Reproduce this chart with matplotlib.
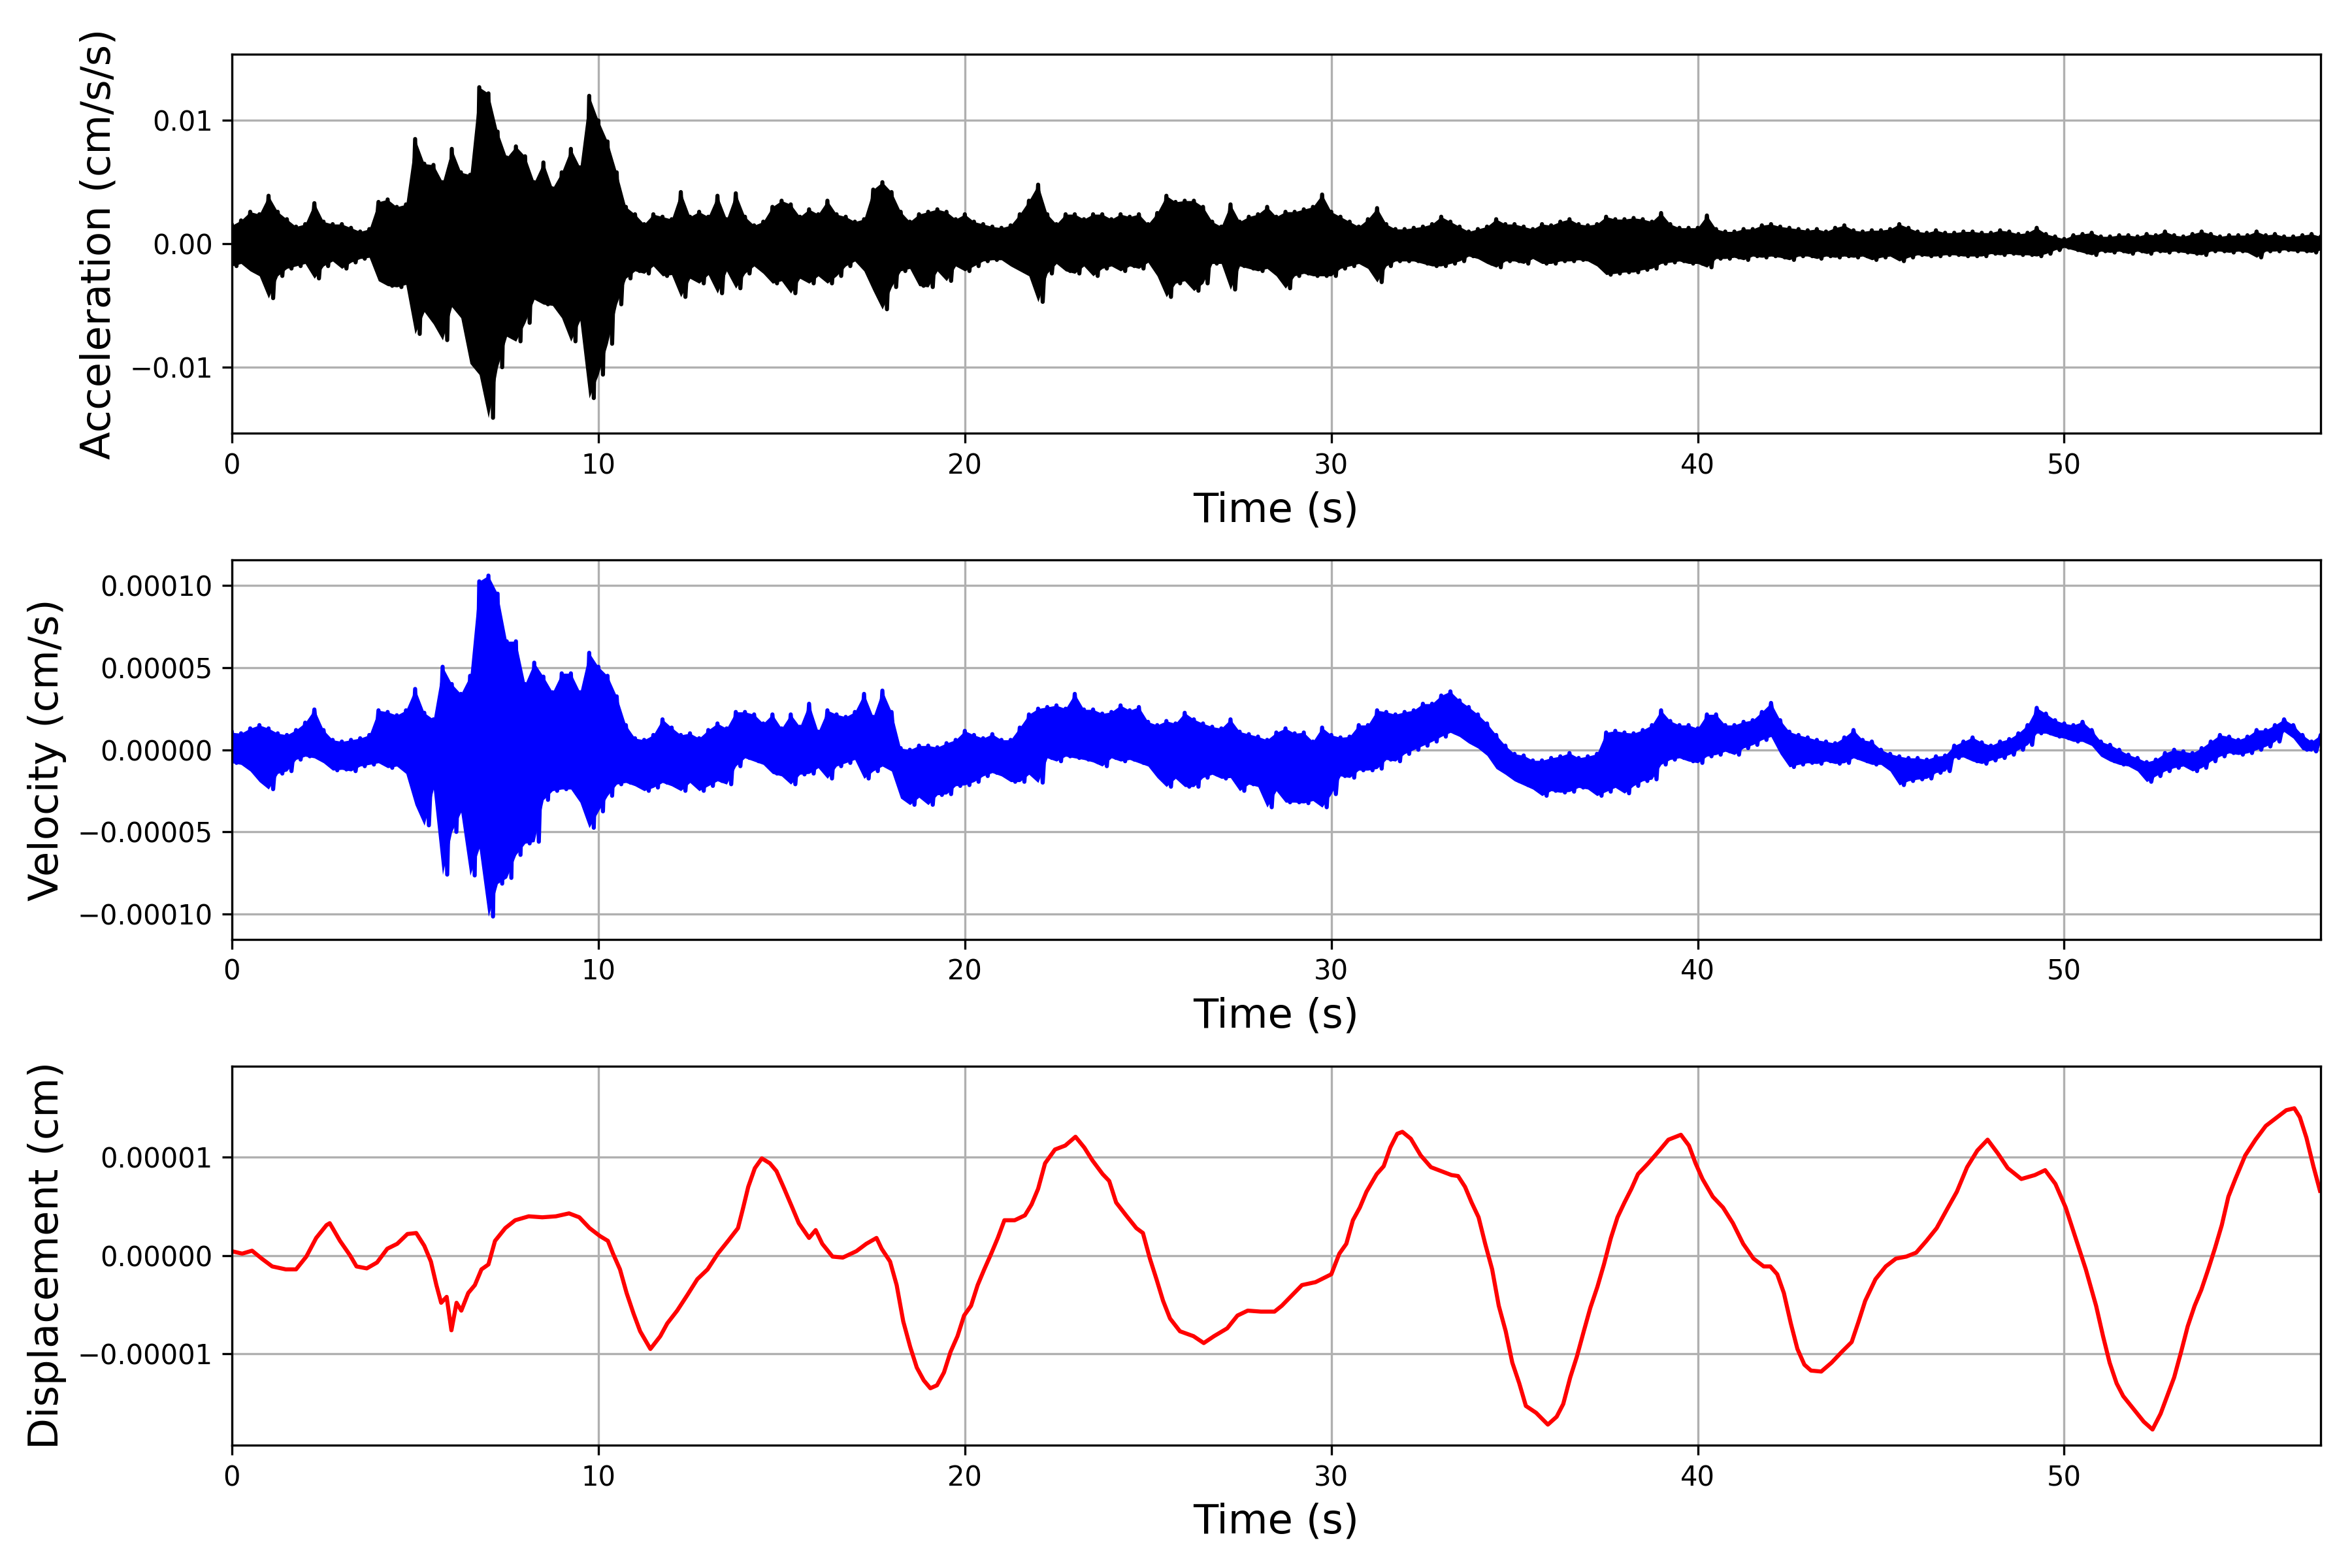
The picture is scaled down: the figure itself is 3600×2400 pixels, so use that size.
import numpy as np
import matplotlib
matplotlib.use("Agg")
import matplotlib.pyplot as plt
from matplotlib.ticker import MultipleLocator, ScalarFormatter

# ---------------- data ----------------
# Acceleration: upper / lower extremes every 0.25 s, units of 1e-3 cm/s/s
acc_step = 0.25
acc_upper = [
    1.5, 1.9, 2.6, 2.4, 3.9, 2.6, 2.0, 1.4, 1.6, 3.3, 1.8, 1.6, 1.6, 1.3, 1.0, 1.2,
    3.4, 3.6, 3.0, 3.2, 8.5, 6.5, 6.4, 5.0, 7.7, 5.8, 5.6, 12.7, 12.2, 9.1, 7.0, 7.9,
    7.1, 5.0, 6.6, 4.5, 5.8, 7.7, 6.2, 12.0, 10.0, 8.3, 5.8, 3.0, 2.4, 1.6, 2.4, 2.2,
    2.0, 4.2, 2.2, 2.6, 2.2, 3.9, 2.0, 4.1, 2.2, 1.5, 1.8, 3.0, 3.5, 3.2, 2.2, 2.8,
    2.4, 3.5, 2.4, 2.2, 1.8, 2.0, 4.4, 5.0, 4.2, 2.6, 1.8, 2.4, 2.6, 2.8, 2.6, 2.0,
    2.4, 1.8, 1.6, 1.4, 1.3, 1.5, 2.4, 3.5, 4.8, 2.4, 1.6, 2.4, 2.4, 2.0, 2.4, 2.4,
    2.0, 2.4, 2.2, 2.4, 1.6, 2.5, 3.9, 3.4, 3.5, 3.5, 3.0, 1.8, 1.4, 3.2, 1.8, 2.2,
    2.4, 3.0, 2.2, 2.6, 2.6, 2.8, 3.0, 4.0, 2.6, 2.2, 1.8, 1.4, 2.0, 2.9, 1.6, 1.2,
    1.2, 1.3, 1.4, 1.6, 2.2, 1.8, 1.4, 1.0, 1.2, 1.4, 2.0, 1.6, 1.6, 1.4, 1.2, 1.6,
    1.5, 1.8, 2.0, 1.6, 1.5, 1.6, 2.2, 2.0, 2.0, 2.1, 2.0, 1.8, 2.5, 1.6, 1.3, 1.3,
    1.3, 2.3, 1.2, 1.0, 1.0, 1.2, 1.2, 1.5, 1.6, 1.4, 1.3, 1.2, 1.1, 1.2, 1.0, 1.3,
    1.5, 1.1, 1.0, 1.1, 1.1, 1.2, 1.6, 1.3, 1.0, 0.9, 1.1, 0.9, 0.9, 1.0, 1.0, 0.9,
    0.9, 1.1, 1.0, 0.8, 0.9, 1.3, 0.8, 0.6, 0.4, 0.7, 0.8, 0.9, 0.6, 0.6, 0.7, 0.7,
    0.6, 0.8, 0.7, 1.0, 0.7, 0.6, 0.8, 1.0, 0.8, 0.6, 0.7, 0.7, 0.7, 1.0, 0.7, 0.8,
    0.6, 0.6, 0.7, 0.8, 0.6,
]
acc_lower = [
    -1.8, -1.6, -2.2, -2.6, -4.4, -2.6, -2.0, -1.8, -1.6, -2.8, -1.8, -1.4, -2.0, -1.5, -1.2, -1.1,
    -3.0, -3.4, -3.5, -3.3, -7.3, -5.5, -6.5, -7.8, -5.1, -6.0, -9.7, -10.6, -14.1, -10.0, -7.5, -7.9,
    -6.4, -4.5, -4.9, -5.0, -6.0, -7.9, -6.2, -12.5, -10.6, -8.1, -4.9, -2.8, -2.2, -2.4, -1.8, -2.6,
    -2.5, -4.3, -2.8, -3.2, -2.5, -4.0, -2.2, -3.6, -2.4, -1.8, -2.4, -3.2, -3.0, -4.0, -2.8, -3.2,
    -2.6, -3.2, -2.6, -1.8, -1.4, -2.2, -3.8, -5.3, -3.5, -2.2, -2.0, -3.4, -3.5, -2.2, -3.0, -1.8,
    -2.2, -1.8, -1.4, -1.3, -1.3, -1.8, -2.2, -2.6, -4.7, -2.4, -1.6, -2.2, -2.4, -1.8, -2.6, -2.0,
    -1.8, -2.2, -1.8, -2.0, -1.5, -2.6, -4.3, -3.2, -3.0, -3.8, -3.2, -1.6, -1.6, -3.7, -1.8, -2.0,
    -2.2, -2.0, -2.6, -3.6, -2.6, -2.4, -2.6, -2.6, -2.6, -2.0, -1.8, -1.6, -2.0, -3.1, -1.8, -1.4,
    -1.4, -1.4, -1.6, -1.8, -1.8, -1.6, -1.4, -1.0, -1.2, -1.6, -1.9, -1.4, -1.4, -1.6, -1.2, -1.6,
    -1.6, -1.4, -1.4, -1.3, -1.4, -1.8, -2.5, -2.4, -2.3, -2.3, -2.1, -2.0, -1.6, -1.5, -1.4, -1.6,
    -1.6, -1.9, -1.2, -1.2, -1.1, -1.3, -1.0, -1.1, -1.0, -1.1, -1.3, -1.0, -1.0, -1.2, -1.0, -1.1,
    -1.0, -1.1, -1.0, -1.3, -1.1, -1.0, -1.4, -1.1, -0.9, -1.0, -1.0, -0.9, -0.9, -1.0, -1.0, -1.0,
    -0.8, -0.9, -0.8, -0.9, -0.9, -1.0, -0.8, -0.5, -0.3, -0.5, -0.7, -0.9, -0.6, -0.7, -0.6, -0.8,
    -0.6, -0.8, -0.6, -0.7, -0.6, -0.7, -0.8, -0.9, -0.6, -0.6, -0.7, -0.6, -0.7, -1.1, -0.6, -0.6,
    -0.5, -0.6, -0.6, -0.7, -0.5,
]

# Velocity: upper / lower extremes every 0.25 s, units of 1e-5 cm/s
vel_step = 0.25
vel_upper = [
    1.05, 1.0, 1.3, 1.5, 1.3, 1.0, 0.9, 1.2, 1.65, 2.45, 1.2, 0.6, 0.5, 0.6, 0.7, 0.9,
    2.4, 2.3, 2.1, 2.4, 3.7, 2.25, 1.85, 5.05, 4.0, 3.4, 4.5, 10.25, 10.6, 9.5, 6.6, 6.6,
    4.0, 5.3, 4.45, 3.5, 4.65, 4.65, 3.5, 5.9, 5.05, 4.5, 3.25, 1.5, 0.7, 0.6, 0.9, 1.85,
    1.35, 0.9, 1.0, 0.7, 1.2, 1.6, 1.3, 2.3, 2.3, 2.15, 1.6, 2.15, 1.3, 2.15, 1.4, 2.8,
    1.1, 2.4, 2.15, 2.0, 2.3, 3.4, 2.0, 3.6, 2.3, 0.1, 0.0, 0.25, 0.25, 0.15, 0.4, 0.6,
    1.15, 0.9, 0.7, 0.95, 0.6, 0.6, 1.35, 2.15, 2.5, 2.6, 2.7, 2.5, 3.4, 2.45, 2.45, 2.2,
    2.3, 2.7, 2.4, 2.6, 1.7, 1.5, 1.75, 1.6, 2.25, 1.85, 1.6, 1.4, 1.3, 1.85, 1.1, 0.95,
    0.8, 0.6, 1.05, 1.3, 1.0, 1.05, 0.5, 1.35, 0.9, 0.75, 0.8, 1.5, 1.5, 2.4, 2.3, 2.15,
    2.3, 2.4, 2.8, 2.8, 3.3, 3.55, 3.0, 2.6, 2.15, 1.6, 0.9, 0.25, -0.25, -0.35, -0.65, -0.65,
    -0.5, -0.4, -0.2, -0.5, -0.4, -0.25, 1.05, 1.15, 1.05, 1.0, 1.2, 1.5, 2.4, 1.75, 1.5, 1.5,
    1.3, 2.15, 2.15, 1.5, 1.5, 1.7, 1.8, 2.3, 2.85, 1.8, 1.1, 0.9, 0.75, 0.6, 0.5, 0.4,
    0.75, 1.2, 0.6, 0.5, 0.0, -0.25, -0.4, -0.5, -0.5, -0.6, -0.4, -0.35, 0.25, 0.5, 0.75, 0.45,
    0.25, 0.5, 0.65, 1.0, 1.5, 2.55, 2.2, 1.8, 1.6, 1.5, 1.7, 1.2, 0.5, 0.3, 0.0, -0.3,
    -0.5, -0.75, -0.6, -0.2, 0.0, -0.1, -0.2, 0.1, 0.5, 0.9, 0.8, 0.6, 0.8, 1.2, 1.2, 1.5,
    1.85, 1.5, 0.9, 0.5, 0.9,
]
vel_lower = [
    -0.8, -0.9, -1.3, -1.95, -2.4, -1.45, -1.3, -0.6, -0.4, -0.5, -0.8, -1.25, -1.2, -1.3, -1.0, -0.9,
    -0.8, -1.1, -1.0, -1.45, -3.35, -4.6, -2.4, -7.6, -5.0, -3.8, -7.65, -6.0, -10.15, -8.15, -7.8, -6.4,
    -5.7, -5.6, -3.05, -2.5, -2.4, -2.4, -3.2, -4.75, -3.75, -2.8, -2.1, -2.0, -2.2, -2.5, -2.3, -2.0,
    -2.2, -2.5, -2.0, -2.5, -2.2, -1.9, -2.1, -1.0, -0.5, -0.7, -0.9, -1.45, -1.6, -2.1, -1.5, -1.45,
    -1.1, -1.75, -1.0, -0.8, -0.6, -1.75, -1.3, -1.0, -1.3, -2.95, -3.35, -2.9, -3.35, -2.75, -2.7, -2.2,
    -2.15, -1.95, -1.6, -1.4, -1.6, -1.95, -1.95, -1.5, -2.0, -0.5, -0.7, -0.4, -0.5, -0.6, -0.75, -1.0,
    -0.5, -0.7, -0.6, -0.8, -1.0, -1.7, -2.25, -1.75, -2.25, -2.25, -1.7, -1.5, -1.75, -1.7, -2.5, -2.1,
    -2.25, -3.5, -2.5, -3.2, -3.2, -3.25, -3.1, -3.5, -2.7, -1.6, -1.7, -1.25, -1.25, -1.15, -0.6, -0.7,
    -0.25, 0.0, 0.25, 0.5, 0.8, 1.05, 0.8, 0.4, 0.1, -0.35, -1.15, -1.5, -1.9, -2.15, -2.4, -2.8,
    -2.5, -2.6, -2.55, -2.3, -2.4, -2.8, -2.55, -2.3, -2.65, -2.2, -1.9, -1.8, -0.9, -0.6, -0.5, -0.7,
    -0.8, -0.4, -0.3, -0.1, -0.3, 0.1, 0.3, 0.6, 0.8, -0.25, -1.05, -0.9, -0.8, -0.85, -0.7, -0.85,
    -0.8, -0.5, -0.7, -0.9, -0.9, -1.3, -2.15, -1.9, -1.8, -1.75, -1.4, -1.3, -0.5, -0.45, -0.7, -0.85,
    -0.65, -0.5, -0.3, 0.0, 0.3, 1.0, 1.0, 0.8, 0.7, 0.5, 0.5, 0.25, -0.4, -0.7, -0.9, -1.0,
    -1.3, -1.95, -1.6, -1.3, -1.1, -1.0, -1.3, -1.1, -0.7, -0.4, -0.2, -0.3, -0.2, 0.0, 0.2, 0.5,
    1.1, 0.7, 0.0, -0.1, 0.5,
]

# Displacement: time (s) and value (units of 1e-6 cm)
disp_time = [
    0.00, 0.28, 0.55, 0.83, 1.10, 1.47, 1.75, 2.03, 2.30, 2.58, 2.67, 2.95, 3.22, 3.40, 3.68, 3.96,
    4.24, 4.51, 4.79, 5.03, 5.25, 5.43, 5.58, 5.71, 5.86, 5.99, 6.13, 6.26, 6.45, 6.63, 6.81, 7.00,
    7.18, 7.46, 7.73, 8.10, 8.47, 8.84, 9.20, 9.48, 9.76, 10.04, 10.26, 10.40, 10.59, 10.77, 10.96, 11.14,
    11.42, 11.69, 11.88, 12.15, 12.43, 12.70, 12.98, 13.26, 13.54, 13.81, 13.94, 14.09, 14.27, 14.46, 14.68, 14.86,
    15.05, 15.29, 15.47, 15.75, 15.93, 16.11, 16.39, 16.67, 17.04, 17.31, 17.59, 17.73, 17.96, 18.14, 18.32, 18.51,
    18.69, 18.88, 19.06, 19.24, 19.43, 19.61, 19.80, 19.98, 20.17, 20.35, 20.53, 20.72, 20.90, 21.08, 21.36, 21.64,
    21.82, 22.00, 22.19, 22.46, 22.74, 23.02, 23.26, 23.48, 23.76, 23.94, 24.13, 24.40, 24.68, 24.86, 25.05, 25.23,
    25.41, 25.60, 25.87, 26.24, 26.52, 26.80, 27.16, 27.44, 27.72, 28.08, 28.45, 28.65, 29.20, 29.57, 30.00, 30.22,
    30.41, 30.59, 30.78, 30.96, 31.24, 31.43, 31.61, 31.80, 31.94, 32.17, 32.44, 32.72, 33.00, 33.28, 33.46, 33.65,
    33.83, 34.02, 34.20, 34.39, 34.57, 34.76, 34.94, 35.13, 35.31, 35.59, 35.91, 36.15, 36.33, 36.52, 36.70, 36.89,
    37.07, 37.26, 37.44, 37.63, 37.81, 38.00, 38.19, 38.37, 38.65, 38.93, 39.20, 39.54, 39.76, 39.94, 40.13, 40.41,
    40.69, 40.96, 41.24, 41.52, 41.80, 41.98, 42.17, 42.35, 42.54, 42.72, 42.91, 43.09, 43.37, 43.65, 43.93, 44.20,
    44.39, 44.57, 44.85, 45.13, 45.41, 45.69, 45.96, 46.24, 46.52, 46.80, 47.07, 47.35, 47.63, 47.91, 48.19, 48.46,
    48.83, 49.20, 49.48, 49.76, 50.04, 50.31, 50.59, 50.87, 51.06, 51.24, 51.43, 51.61, 51.89, 52.17, 52.41, 52.63,
    52.81, 53.00, 53.19, 53.37, 53.56, 53.74, 53.93, 54.11, 54.30, 54.48, 54.67, 54.94, 55.22, 55.50, 55.78, 56.06,
    56.28, 56.43, 56.61, 56.80, 56.98,
]
disp_value = [
    0.45, 0.2, 0.5, -0.35, -1.1, -1.4, -1.4, -0.1, 1.8, 3.1, 3.3, 1.5, 0.05, -1.1, -1.3, -0.7,
    0.7, 1.2, 2.2, 2.3, 1.0, -0.6, -3.0, -4.8, -4.2, -7.6, -4.8, -5.6, -3.8, -3.0, -1.4, -0.9,
    1.5, 2.8, 3.6, 4.0, 3.9, 4.0, 4.3, 3.9, 2.8, 2.0, 1.5, 0.2, -1.4, -3.8, -5.9, -7.7,
    -9.5, -8.2, -6.9, -5.6, -4.0, -2.4, -1.4, 0.2, 1.5, 2.8, 4.7, 7.0, 8.9, 9.9, 9.4, 8.6,
    7.0, 4.9, 3.3, 1.8, 2.6, 1.2, -0.1, -0.2, 0.45, 1.2, 1.8, 0.7, -0.6, -3.0, -6.7, -9.3,
    -11.4, -12.7, -13.5, -13.2, -11.9, -9.8, -8.2, -6.1, -5.1, -3.0, -1.4, 0.2, 1.8, 3.6, 3.6, 4.1,
    5.2, 6.8, 9.4, 10.8, 11.2, 12.1, 11.0, 9.7, 8.3, 7.6, 5.4, 4.1, 2.8, 2.3, -0.3, -2.4,
    -4.6, -6.4, -7.7, -8.2, -8.9, -8.2, -7.4, -6.1, -5.6, -5.7, -5.7, -5.1, -3.0, -2.7, -1.9, 0.2,
    1.2, 3.6, 4.9, 6.5, 8.3, 9.1, 11.0, 12.4, 12.6, 11.9, 10.2, 9.0, 8.6, 8.2, 8.1, 7.0,
    5.4, 3.9, 1.2, -1.4, -5.1, -7.7, -10.9, -13.0, -15.3, -16.0, -17.2, -16.4, -15.1, -12.4, -10.3, -7.7,
    -5.3, -3.2, -0.9, 1.8, 3.9, 5.4, 6.8, 8.3, 9.4, 10.6, 11.8, 12.3, 11.2, 9.4, 7.8, 6.0,
    4.9, 3.3, 1.2, -0.3, -1.1, -1.1, -1.9, -3.8, -6.9, -9.5, -11.1, -11.7, -11.8, -10.9, -9.8, -8.8,
    -6.7, -4.6, -2.4, -1.1, -0.3, -0.1, 0.3, 1.5, 2.8, 4.7, 6.5, 9.0, 10.7, 11.8, 10.4, 8.9,
    7.8, 8.2, 8.7, 7.3, 4.9, 1.8, -1.4, -5.1, -8.2, -10.9, -13.0, -14.3, -15.6, -16.9, -17.7, -16.1,
    -14.3, -12.4, -9.8, -7.2, -5.1, -3.5, -1.4, 0.7, 3.1, 6.0, 7.8, 10.2, 11.8, 13.2, 14.0, 14.8,
    15.0, 14.1, 12.0, 9.1, 6.6,
]

# Axis text
x_label = "Time (s)"
y_labels = ["Acceleration (cm/s/s)", "Velocity (cm/s)", "Displacement (cm)"]
t_end = 57.0


def draw_band(ax, step, upper, lower, scale, color):
    """Dense record: band between the read extremes plus a line alternating between them."""
    n = min(len(upper), len(lower))
    t = np.arange(n) * step
    up = np.asarray(upper[:n]) * scale
    lo = np.asarray(lower[:n]) * scale
    ax.fill_between(t, lo, up, color=color, lw=0, zorder=2)
    x = np.empty(2 * n)
    y = np.empty(2 * n)
    x[0::2] = t
    x[1::2] = t + step / 2
    y[0::2] = up
    y[1::2] = lo
    ax.plot(x, y, color=color, lw=1.5, zorder=2.1)


# ---------------- figure ----------------
fig, axes = plt.subplots(3, 1, figsize=(12, 8), dpi=300)
fig.subplots_adjust(left=0.0986, right=0.9867, top=0.9654, bottom=0.0783, hspace=0.334)

ax_a, ax_v, ax_d = axes

draw_band(ax_a, acc_step, acc_upper, acc_lower, 1e-3, "k")
ax_a.set_ylim(-0.01537, 0.01537)
ax_a.yaxis.set_major_locator(MultipleLocator(0.01))

draw_band(ax_v, vel_step, vel_upper, vel_lower, 1e-5, "b")
ax_v.set_ylim(-1.154e-4, 1.154e-4)
ax_v.yaxis.set_major_locator(MultipleLocator(5e-5))

ax_d.plot(np.asarray(disp_time), np.asarray(disp_value) * 1e-6, color="r", lw=1.5)
ax_d.set_ylim(-1.93e-5, 1.93e-5)
ax_d.yaxis.set_major_locator(MultipleLocator(1e-5))

for ax, lab in zip(axes, y_labels):
    ax.set_xlim(0, t_end)
    ax.xaxis.set_major_locator(MultipleLocator(10))
    fmt = ScalarFormatter(useOffset=False)
    fmt.set_powerlimits((-7, 7))
    ax.yaxis.set_major_formatter(fmt)
    ax.grid(True)
    ax.set_xlabel(x_label, fontsize=15)
    ax.set_ylabel(lab, fontsize=15)
    ax.tick_params(labelsize=10)

fig.savefig("out.png", dpi=300)
